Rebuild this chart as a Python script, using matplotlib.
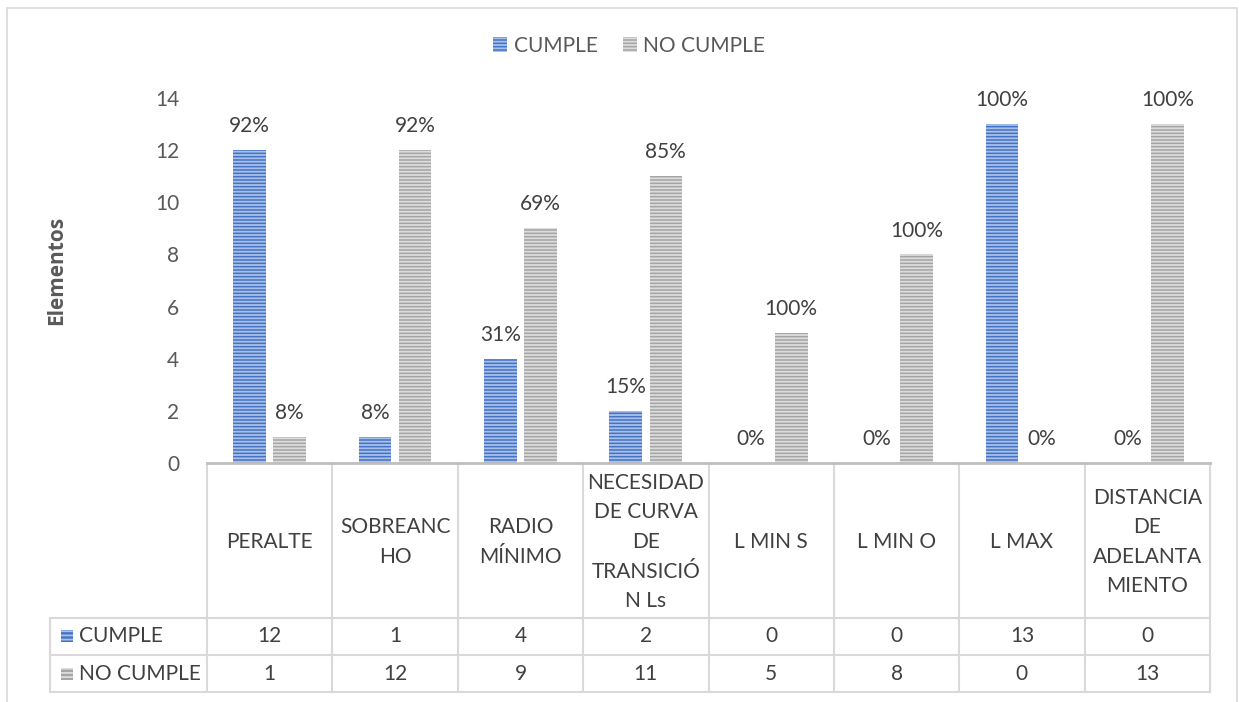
import matplotlib
matplotlib.use("Agg")
import matplotlib.pyplot as plt
from matplotlib.patches import Rectangle
from matplotlib.transforms import blended_transform_factory
from matplotlib.lines import Line2D

categories = ["PERALTE", "SOBREANC\nHO", "RADIO\nMÍNIMO",
              "NECESIDAD\nDE CURVA\nDE\nTRANSICIÓ\nN Ls",
              "L MIN S", "L MIN O", "L MAX",
              "DISTANCIA\nDE\nADELANTA\nMIENTO"]
series_names = ["CUMPLE", "NO CUMPLE"]
cumple = [12, 1, 4, 2, 0, 0, 13, 0]
no_cumple = [1, 12, 9, 11, 5, 8, 0, 13]
pct_cumple = ["92%", "8%", "31%", "15%", "0%", "0%", "100%", "0%"]
pct_no_cumple = ["8%", "92%", "69%", "85%", "100%", "100%", "0%", "100%"]
y_ticks = [0, 2, 4, 6, 8, 10, 12, 14]

plt.rcParams["font.family"] = ["Lato", "DejaVu Sans"]
plt.rcParams["hatch.linewidth"] = 1.3

W, H = 1239, 702
fig = plt.figure(figsize=(W / 100, H / 100), dpi=100)


def fx(px):
    return px / W


def fy(py):
    return 1 - py / H


FS = 15
TXT = "#404040"
GRID = "#D9D9D9"
BLUE, BLUE_H = "#4472C4", "#A9C1EA"
GRAY, GRAY_H = "#A5A5A5", "#DCDCDC"

# outer chart frame
fig.patches.append(Rectangle((fx(7), fy(720)), fx(1237) - fx(7), fy(8) - fy(720),
                             transform=fig.transFigure, fill=False,
                             edgecolor="#D9D9D9", linewidth=1.2))

ax = fig.add_axes([fx(207), fy(463), fx(1210) - fx(207), fy(98) - fy(463)])
n = len(categories)
x = list(range(n))
bw = 0.26
off = 0.16

b1 = ax.bar([i - off for i in x], cumple, bw, color=BLUE, edgecolor=BLUE_H,
            linewidth=0, hatch="-----", label=series_names[0])
b2 = ax.bar([i + off for i in x], no_cumple, bw, color=GRAY, edgecolor=GRAY_H,
            linewidth=0, hatch="-----", label=series_names[1])

for bars, labels in ((b1, pct_cumple), (b2, pct_no_cumple)):
    for rect, lab in zip(bars, labels):
        ax.annotate(lab, (rect.get_x() + rect.get_width() / 2, rect.get_height()),
                    xytext=(0, 10), textcoords="offset points",
                    ha="center", va="bottom", fontsize=FS, color=TXT)

ax.set_xlim(-0.5, n - 0.5)
ax.set_ylim(0, 14)
ax.set_yticks(y_ticks)
ax.tick_params(axis="y", length=0, pad=20, labelsize=FS, labelcolor="#595959")
ax.set_xticks([])
for s in ("top", "right", "left"):
    ax.spines[s].set_visible(False)
ax.spines["bottom"].set_color("#BFBFBF")
ax.spines["bottom"].set_linewidth(2)

fig.text(fx(57), fy(270), "Elementos", rotation=90, ha="center", va="center",
         fontsize=FS, fontweight="bold", color="#595959",
         family=["Open Sans", "DejaVu Sans"])

fig.legend(handles=[b1, b2], labels=series_names, loc="center",
           bbox_to_anchor=(fx(629), fy(46)), ncol=2, frameon=False,
           fontsize=FS, labelcolor="#595959", handlelength=0.7,
           handleheight=0.7, handletextpad=0.3, columnspacing=1.2)

# data table below the plot
tr = blended_transform_factory(ax.transData, fig.transFigure)
rows_y = [463, 618, 655, 692]
left_x = -0.5 - (207 - 50) / ((1210 - 207) / n)

for k in range(n + 1):
    ax.add_line(Line2D([k - 0.5, k - 0.5], [fy(463), fy(692)], transform=tr,
                       color=GRID, linewidth=1.5, clip_on=False))
ax.add_line(Line2D([left_x, left_x], [fy(618), fy(692)], transform=tr,
                   color=GRID, linewidth=1.5, clip_on=False))
for yy in rows_y[1:]:
    ax.add_line(Line2D([left_x, n - 0.5], [fy(yy), fy(yy)], transform=tr,
                       color=GRID, linewidth=1.5, clip_on=False))

for i, cat in enumerate(categories):
    ax.text(i, fy(542), cat, transform=tr, ha="center", va="center",
            fontsize=FS, color=TXT, linespacing=1.6, clip_on=False)
    ax.text(i, fy(636), str(cumple[i]), transform=tr, ha="center", va="center",
            fontsize=FS, color=TXT, clip_on=False)
    ax.text(i, fy(674), str(no_cumple[i]), transform=tr, ha="center", va="center",
            fontsize=FS, color=TXT, clip_on=False)

for yc, name, fc, hc in ((636, series_names[0], BLUE, BLUE_H),
                         (674, series_names[1], GRAY, GRAY_H)):
    fig.patches.append(Rectangle((fx(61), fy(yc + 6)), fx(12), fy(0) - fy(12),
                                 transform=fig.transFigure, facecolor=fc,
                                 edgecolor=hc, linewidth=0, hatch="----"))
    fig.text(fx(79), fy(yc), name, ha="left", va="center", fontsize=FS, color=TXT)

fig.savefig("out.png", dpi=100)
